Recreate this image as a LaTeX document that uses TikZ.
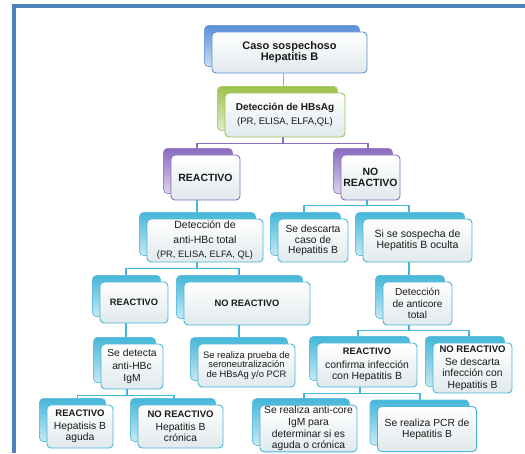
\documentclass[tikz,border=0pt]{standalone}
\usepackage{fontspec}
\setmainfont{Liberation Sans}
\usetikzlibrary{shadows,backgrounds}
\definecolor{framecol}{HTML}{4F81BD}
\definecolor{bluec}{HTML}{5B8FD6}
\definecolor{greenc}{HTML}{9CC34E}
\definecolor{purplec}{HTML}{8A6BBE}
\definecolor{tealc}{HTML}{45B6D9}
\definecolor{boxbot}{HTML}{E1E9EC}
\definecolor{txt}{HTML}{1A1A1A}
\newcommand{\fs}[2]{\fontsize{#1}{#2}\selectfont}

\tikzset{
  box/.style={rectangle, rounded corners=4pt, draw=#1, line width=0.9pt,
    top color=white, bottom color=boxbot, text=txt, align=center,
    inner sep=1pt, font=\fs{10.3}{11.5},
    copy shadow={shadow xshift=-7.5pt, shadow yshift=6.5pt, draw=#1!85,
      line width=0.6pt, top color=#1, bottom color=#1!30}},
  link/.style={draw=#1, line width=1.5pt},
}

\begin{document}
\begin{tikzpicture}[x=1pt,y=-1pt]
    \useasboundingbox (0,0) rectangle (525,453);
    \fill[framecol] (12,4) rectangle (525,8);
    \fill[framecol] (12,4) rectangle (16,453);

    % top
    \node[box=bluec, minimum width=155pt, minimum height=41pt, font=\fs{11}{11}\bfseries] (caso) at (289.5,52.5) {Caso sospechoso\\Hepatitis B};
    \node[box=greenc, minimum width=120pt, minimum height=44pt] (hbsag) at (285,115) {{\fs{10}{11}\bfseries Detección de HBsAg}\\[3pt]{\fs{9.5}{11}(PR, ELISA, ELFA,QL)}};
    \node[box=purplec, minimum width=69pt, minimum height=45pt, font=\fs{10.5}{11}\bfseries] (reac) at (205.5,177.5) {REACTIVO};
    \node[box=purplec, minimum width=59pt, minimum height=45pt, font=\fs{10.5}{11}\bfseries] (noreac) at (370.5,177.5) {NO\\REACTIVO};

    % left branch
    \node[box=tealc, minimum width=116pt, minimum height=43pt, font=\fs{10.5}{14.5}] (antihbc) at (205,240.5) {Detección de\\anti-HBc total\\{\fs{9.3}{11}(PR, ELISA, ELFA, QL)}};
    \node[box=tealc, minimum width=68pt, minimum height=41pt, font=\fs{9.3}{11}\bfseries] (reac2) at (134,302.5) {REACTIVO};
    \node[box=tealc, minimum width=126pt, minimum height=43pt, font=\fs{9.3}{11}\bfseries] (noreac2) at (247,303.5) {NO REACTIVO};
    \node[box=tealc, minimum width=62pt, minimum height=45pt, font=\fs{10.3}{12.5}] (igm) at (132,366.5) {Se detecta\\anti-HBc\\IgM};
    \node[box=tealc, minimum width=97pt, minimum height=43pt, font=\fs{9.4}{9.6}] (seroneut) at (246.5,365.5) {Se realiza prueba de\\seroneutralización\\de HBsAg y/o PCR};
    \node[box=tealc, minimum width=66pt, minimum height=43pt, font=\fs{10.3}{11}] (aguda) at (80,426.5) {{\fs{9.5}{11}\bfseries REACTIVO}\\[2pt]Hepatisis B\\aguda};
    \node[box=tealc, minimum width=85pt, minimum height=43pt, font=\fs{10.3}{11}] (cronica) at (180.5,426.5) {{\fs{9.5}{11}\bfseries NO REACTIVO}\\[2pt]Hepatitis B\\crónica};

    % right branch
    \node[box=tealc, minimum width=70pt, minimum height=43pt, font=\fs{10.3}{10.7}] (descarta) at (313,240.5) {Se descarta\\caso de\\Hepatitis B};
    \node[box=tealc, minimum width=109pt, minimum height=43pt, font=\fs{10.5}{11}] (oculta) at (417.5,240.5) {Si se sospecha de\\Hepatitis B oculta};
    \node[box=tealc, minimum width=69pt, minimum height=43pt, font=\fs{10.1}{11.3}] (anticore) at (417.5,303.5) {Detección\\de anticore\\total};
    \node[box=tealc, minimum width=100pt, minimum height=44pt, font=\fs{10.4}{11}] (confirma) at (367,365) {{\fs{9.3}{11}\bfseries REACTIVO}\\[3pt]confirma infección\\con Hepatitis B};
    \node[box=tealc, minimum width=79pt, minimum height=50pt, font=\fs{10.3}{11.3}] (descinf) at (472.5,368) {{\fs{9.5}{11}\bfseries NO REACTIVO}\\[2pt]Se descarta\\infección con\\Hepatitis B};
    \node[box=tealc, minimum width=97pt, minimum height=45pt, font=\fs{10.3}{11.7}] (igmcore) at (308.5,428.5) {Se realiza anti-core\\IgM para\\determinar si es\\aguda o crónica};
    \node[box=tealc, minimum width=99pt, minimum height=45pt, font=\fs{10.3}{10.7}] (pcr) at (427,429) {Se realiza PCR de\\Hepatitis B};

    % connectors behind the boxes
    \begin{scope}[on background layer]
    \draw[link=greenc] ([xshift=-6pt]caso.south) -- ([xshift=-6pt]caso.south |- hbsag.north);
    \draw[link=purplec] ([xshift=-2pt]hbsag.south) -- ++(0,6) -| ([xshift=-8.5pt]reac.north);
    \draw[link=purplec] ([xshift=-2pt]hbsag.south) -- ++(0,6) -| ([xshift=-2.5pt]noreac.north);
    \draw[link=tealc] ([xshift=-8.5pt]reac.south) -- ([xshift=-8.5pt]reac.south |- antihbc.north);
    \draw[link=tealc] ([xshift=-3.5pt]noreac.south) -- ++(0,5) -| ([xshift=-9pt]descarta.north);
    \draw[link=tealc] ([xshift=-3.5pt]noreac.south) -- ++(0,5) -| ([xshift=-8.5pt]oculta.north);
    \draw[link=tealc] ([xshift=-8pt]antihbc.south) -- ++(0,6) -| ([xshift=-8pt]reac2.north);
    \draw[link=tealc] ([xshift=-8pt]antihbc.south) -- ++(0,6) -| ([xshift=-8pt]noreac2.north);
    \draw[link=tealc] ([xshift=-8.5pt]oculta.south) -- ([xshift=-8.5pt]oculta.south |- anticore.north);
    \draw[link=tealc] ([xshift=-8pt]reac2.south) -- ([xshift=-8pt]reac2.south |- igm.north);
    \draw[link=tealc] ([xshift=-8pt]noreac2.south) -- ([xshift=-8pt]noreac2.south |- seroneut.north);
    \draw[link=tealc] ([xshift=-8.5pt]anticore.south) -- ++(0,5) -| ([xshift=-9pt]confirma.north);
    \draw[link=tealc] ([xshift=-8.5pt]anticore.south) -- ++(0,5) -| ([xshift=-3.5pt]descinf.north);
    \draw[link=tealc] ([xshift=-5pt]igm.south) -- ++(0,6) -| ([xshift=-2.5pt]aguda.north);
    \draw[link=tealc] ([xshift=-5pt]igm.south) -- ++(0,6) -| ([xshift=-6.5pt]cronica.north);
    \draw[link=tealc] ([xshift=-7pt]confirma.south) -- ++(0,6) -| ([xshift=-4.5pt]igmcore.north);
    \draw[link=tealc] ([xshift=-7pt]confirma.south) -- ++(0,6) -| ([xshift=-7pt]pcr.north);
    \end{scope}
\end{tikzpicture}
\end{document}
